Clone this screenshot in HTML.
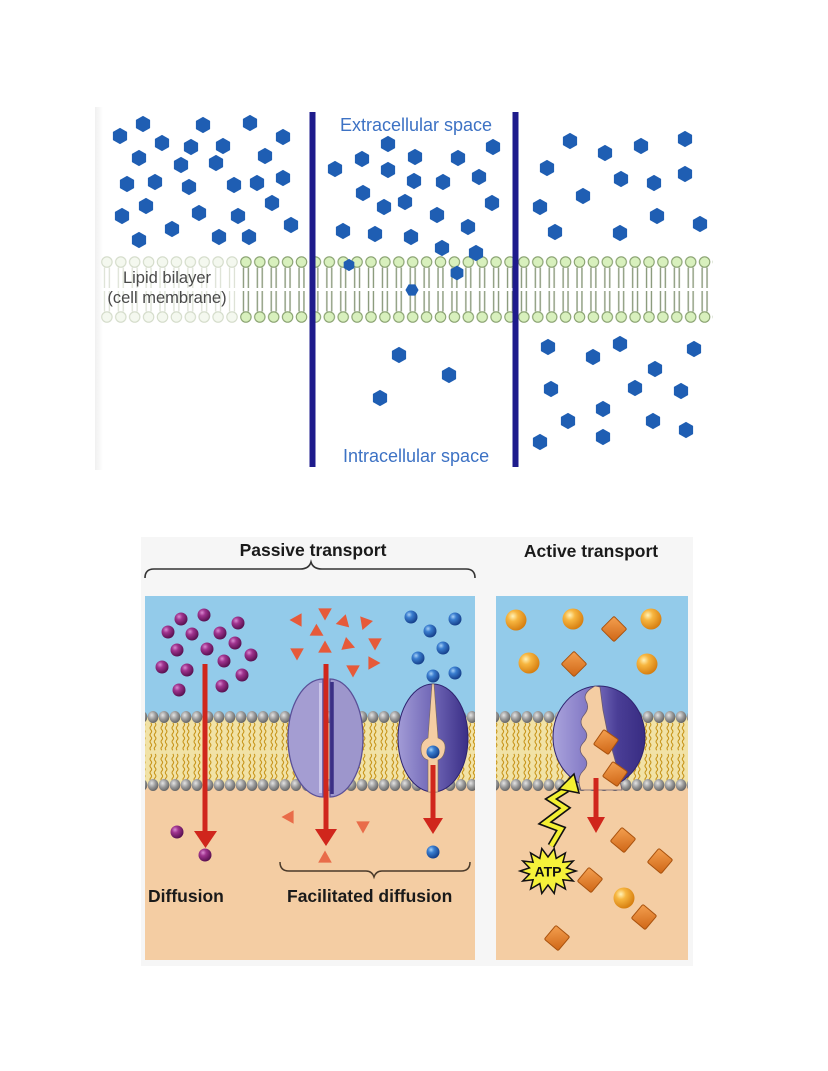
<!DOCTYPE html>
<html><head><meta charset="utf-8"><style>html,body{margin:0;padding:0;background:#fff}svg{display:block}</style></head>
<body>
<svg width="828" height="1071" viewBox="0 0 828 1071" xmlns="http://www.w3.org/2000/svg" xmlns:xlink="http://www.w3.org/1999/xlink">
<defs>
 <linearGradient id="edge" x1="0" y1="0" x2="1" y2="0"><stop offset="0" stop-color="#f0f0f0"/><stop offset="1" stop-color="#fff"/></linearGradient>
 <pattern id="memG" patternUnits="userSpaceOnUse" x="225.05" y="251" width="13.9" height="72">
  <path d="M4.5 16.5V37M9.4 16.5V37M4.5 40V60.5M9.4 40V60.5" stroke="#8b9a7c" stroke-width="1.4" fill="none"/>
  <circle cx="6.95" cy="11" r="5.2" fill="#d8f0bd" stroke="#87a06e" stroke-width="1.1"/>
  <circle cx="6.95" cy="66" r="5.2" fill="#d8f0bd" stroke="#87a06e" stroke-width="1.1"/>
 </pattern>
 <pattern id="memF" patternUnits="userSpaceOnUse" x="225.05" y="251" width="13.9" height="72">
  <path d="M4.5 16.5V37M9.4 16.5V37M4.5 40V60.5M9.4 40V60.5" stroke="#dde2d6" stroke-width="1.3" fill="none"/>
  <circle cx="6.95" cy="11" r="5.2" fill="#f4f8ef" stroke="#d3dbc9" stroke-width="1.1"/>
  <circle cx="6.95" cy="66" r="5.2" fill="#f4f8ef" stroke="#d3dbc9" stroke-width="1.1"/>
 </pattern>
 <radialGradient id="gh" cx=".38" cy=".35" r=".7"><stop offset="0" stop-color="#e4e4e4"/><stop offset=".5" stop-color="#9a9a9a"/><stop offset="1" stop-color="#5f5f5f"/></radialGradient>
 <pattern id="bmem" patternUnits="userSpaceOnUse" x="147.5" y="710" width="11" height="82">
  <rect y="7" width="11" height="68" fill="#f1e2a6"/>
  <path d="M3.3 13q1.6 1.7 0 3.4t0 3.4t0 3.4t0 3.4t0 3.4t0 3.4t0 3.4t0 3.4M7.6 13q1.6 1.7 0 3.4t0 3.4t0 3.4t0 3.4t0 3.4t0 3.4t0 3.4t0 3.4M3.3 44q1.6 1.7 0 3.4t0 3.4t0 3.4t0 3.4t0 3.4t0 3.4t0 3.4t0 3.4M7.6 44q1.6 1.7 0 3.4t0 3.4t0 3.4t0 3.4t0 3.4t0 3.4t0 3.4t0 3.4" stroke="#c8961c" stroke-width="1.1" fill="none"/>
  <ellipse cx="5.5" cy="7" rx="5.3" ry="6" fill="url(#gh)"/>
  <ellipse cx="5.5" cy="75" rx="5.3" ry="6" fill="url(#gh)"/>
 </pattern>
 <radialGradient id="gp" cx=".35" cy=".32" r=".7"><stop offset="0" stop-color="#d88ad0"/><stop offset=".35" stop-color="#a0348f"/><stop offset="1" stop-color="#581050"/></radialGradient>
 <radialGradient id="gb" cx=".35" cy=".32" r=".7"><stop offset="0" stop-color="#a6d0f6"/><stop offset=".35" stop-color="#3a7ed0"/><stop offset="1" stop-color="#153f8a"/></radialGradient>
 <radialGradient id="go" cx=".35" cy=".32" r=".7"><stop offset="0" stop-color="#fff2b8"/><stop offset=".35" stop-color="#f7b640"/><stop offset="1" stop-color="#d67e10"/></radialGradient>
 <linearGradient id="gd" x1="0" y1="0" x2="1" y2="1"><stop offset="0" stop-color="#f4a050"/><stop offset="1" stop-color="#cf6616"/></linearGradient>
 <linearGradient id="gcar" x1="0" y1="0" x2="1" y2="0"><stop offset="0" stop-color="#a29bd6"/><stop offset=".5" stop-color="#6f66b6"/><stop offset="1" stop-color="#3a2e86"/></linearGradient>
 <linearGradient id="gpump" x1="0" y1="0" x2="1" y2="0"><stop offset="0" stop-color="#aaa3dc"/><stop offset=".45" stop-color="#7a70c0"/><stop offset=".7" stop-color="#4a3e96"/><stop offset="1" stop-color="#382c82"/></linearGradient>
 <polygon id="hx" points="0,-7.6 6.6,-3.8 6.6,3.8 0,7.6 -6.6,3.8 -6.6,-3.8" fill="#1f5eb3" stroke="#1f5eb3" stroke-width="1" stroke-linejoin="round"/>
 <polygon id="tri" points="0,-7.5 6.8,4.6 -6.8,4.6" fill="#e65a3a"/>
 <circle id="pb" r="6.5" fill="url(#gp)"/>
 <circle id="bb" r="6.5" fill="url(#gb)"/>
 <circle id="ob" r="10.5" fill="url(#go)"/>
 <rect id="dm" x="-9" y="-9" width="18" height="18" rx="1.5" fill="url(#gd)" stroke="#a9520e" stroke-width="1"/>
</defs>
<rect width="828" height="1071" fill="#fff"/>

<!-- ===== TOP DIAGRAM ===== -->
<rect x="95" y="107" width="8" height="363" fill="url(#edge)"/>
<rect x="99" y="251" width="141" height="72" fill="url(#memF)"/>
<rect x="240" y="251" width="473" height="72" fill="url(#memG)"/>

<g font-family="Liberation Sans, Arial, sans-serif" font-size="16.5" fill="#4a4a4a" text-anchor="middle">
 <text x="167" y="283">Lipid bilayer</text>
 <text x="167" y="303">(cell membrane)</text>
</g>
<g font-family="Liberation Sans, Arial, sans-serif" font-size="18" fill="#3d72c4">
 <text x="340" y="131">Extracellular space</text>
 <text x="343" y="462">Intracellular space</text>
</g>

<g>
 <use href="#hx" x="120" y="136"/><use href="#hx" x="143" y="124"/><use href="#hx" x="203" y="125"/><use href="#hx" x="250" y="123"/><use href="#hx" x="283" y="137"/>
 <use href="#hx" x="162" y="143"/><use href="#hx" x="191" y="147"/><use href="#hx" x="223" y="146"/><use href="#hx" x="139" y="158"/><use href="#hx" x="181" y="165"/>
 <use href="#hx" x="216" y="163"/><use href="#hx" x="265" y="156"/><use href="#hx" x="127" y="184"/><use href="#hx" x="155" y="182"/><use href="#hx" x="189" y="187"/>
 <use href="#hx" x="234" y="185"/><use href="#hx" x="257" y="183"/><use href="#hx" x="283" y="178"/><use href="#hx" x="146" y="206"/><use href="#hx" x="272" y="203"/>
 <use href="#hx" x="122" y="216"/><use href="#hx" x="199" y="213"/><use href="#hx" x="238" y="216"/><use href="#hx" x="291" y="225"/><use href="#hx" x="172" y="229"/>
 <use href="#hx" x="139" y="240"/><use href="#hx" x="219" y="237"/><use href="#hx" x="249" y="237"/>
 <use href="#hx" x="335" y="169"/><use href="#hx" x="362" y="159"/><use href="#hx" x="388" y="144"/><use href="#hx" x="388" y="170"/><use href="#hx" x="363" y="193"/>
 <use href="#hx" x="384" y="207"/><use href="#hx" x="405" y="202"/><use href="#hx" x="343" y="231"/><use href="#hx" x="375" y="234"/><use href="#hx" x="411" y="237"/>
 <use href="#hx" x="415" y="157"/><use href="#hx" x="458" y="158"/><use href="#hx" x="493" y="147"/><use href="#hx" x="414" y="181"/><use href="#hx" x="443" y="182"/>
 <use href="#hx" x="479" y="177"/><use href="#hx" x="437" y="215"/><use href="#hx" x="492" y="203"/><use href="#hx" x="468" y="227"/><use href="#hx" x="442" y="248"/>
 <use href="#hx" x="476" y="253"/>
 <use href="#hx" transform="translate(349,265) scale(0.75)"/>
 <use href="#hx" transform="translate(457,273) scale(0.9)"/>
 <use href="#hx" transform="translate(412,290) scale(0.8) rotate(30)"/>
 <use href="#hx" x="570" y="141"/><use href="#hx" x="605" y="153"/><use href="#hx" x="641" y="146"/><use href="#hx" x="685" y="139"/><use href="#hx" x="547" y="168"/>
 <use href="#hx" x="621" y="179"/><use href="#hx" x="654" y="183"/><use href="#hx" x="685" y="174"/><use href="#hx" x="583" y="196"/><use href="#hx" x="540" y="207"/>
 <use href="#hx" x="657" y="216"/><use href="#hx" x="700" y="224"/><use href="#hx" x="555" y="232"/><use href="#hx" x="620" y="233"/>
 <use href="#hx" x="399" y="355"/><use href="#hx" x="449" y="375"/><use href="#hx" x="380" y="398"/>
 <use href="#hx" x="548" y="347"/><use href="#hx" x="593" y="357"/><use href="#hx" x="620" y="344"/><use href="#hx" x="694" y="349"/><use href="#hx" x="655" y="369"/>
 <use href="#hx" x="551" y="389"/><use href="#hx" x="635" y="388"/><use href="#hx" x="681" y="391"/><use href="#hx" x="603" y="409"/><use href="#hx" x="568" y="421"/>
 <use href="#hx" x="653" y="421"/><use href="#hx" x="686" y="430"/><use href="#hx" x="540" y="442"/><use href="#hx" x="603" y="437"/>
</g>

<rect x="309.5" y="112" width="6" height="355" fill="#1e1b8c"/>
<rect x="512.5" y="112" width="6" height="355" fill="#1e1b8c"/>

<!-- ===== BOTTOM DIAGRAM ===== -->
<rect x="141" y="537" width="552" height="429" fill="#f6f6f6"/>

<g font-family="Liberation Sans, Arial, sans-serif" font-weight="bold" font-size="17.5" fill="#1a1a1a">
 <text x="313" y="556" text-anchor="middle">Passive transport</text>
 <text x="591" y="557" text-anchor="middle">Active transport</text>
</g>
<path d="M145 578Q145 569 154 569L300 569Q309 569 311 562Q313 569 322 569L466 569Q475 569 475 578" fill="none" stroke="#333" stroke-width="1.6"/>

<rect x="145" y="596" width="330" height="364" fill="#f4cda3"/>
<rect x="145" y="596" width="330" height="121" fill="#93cbea"/>
<rect x="145" y="710" width="330" height="82" fill="url(#bmem)"/>

<path d="M323 679A35 59 0 0 0 323 797Z" fill="#a49dd2" stroke="#5a5098" stroke-width="1.3"/>
<path d="M330 679A33 59 0 0 1 330 797Z" fill="#9d96cc" stroke="#5a5098" stroke-width="1.3"/>
<line x1="320.5" y1="683" x2="320.5" y2="793" stroke="#ccc7ea" stroke-width="3"/>
<line x1="332" y1="682" x2="332" y2="794" stroke="#3b2f85" stroke-width="3.5"/>

<ellipse cx="433" cy="738" rx="35" ry="54" fill="url(#gcar)" stroke="#2e2470" stroke-width="1"/>
<path d="M432 684L434 684L438 738Q446 741 445 749Q444 758 438 760L438 792L428 792L428 760Q421 758 421 749Q421 741 428 738Z" fill="#f4cda3" stroke="#7a6a58" stroke-width="0.6"/>
<use href="#bb" x="433" y="752"/>

<g fill="#d0261c">
 <rect x="202.5" y="664" width="5" height="170"/><polygon points="194,831 217,831 205.5,848"/>
 <rect x="323.5" y="664" width="5" height="168"/><polygon points="315,829 337,829 326,846"/>
 <rect x="430.5" y="765" width="5" height="55"/><polygon points="423,818 443,818 433,834"/>
</g>

<use href="#pb" x="181" y="619"/><use href="#pb" x="204" y="615"/><use href="#pb" x="238" y="623"/><use href="#pb" x="168" y="632"/><use href="#pb" x="192" y="634"/>
<use href="#pb" x="220" y="633"/><use href="#pb" x="235" y="643"/><use href="#pb" x="177" y="650"/><use href="#pb" x="207" y="649"/><use href="#pb" x="251" y="655"/>
<use href="#pb" x="224" y="661"/><use href="#pb" x="162" y="667"/><use href="#pb" x="187" y="670"/><use href="#pb" x="242" y="675"/><use href="#pb" x="179" y="690"/>
<use href="#pb" x="222" y="686"/><use href="#pb" x="177" y="832"/><use href="#pb" x="205" y="855"/>

<use href="#tri" transform="translate(297,620) rotate(270)"/>
<use href="#tri" transform="translate(325,613) rotate(180)"/>
<use href="#tri" transform="translate(343,622) rotate(255)"/>
<use href="#tri" transform="translate(365,623) rotate(200)"/>
<use href="#tri" transform="translate(317,632) rotate(120)"/>
<use href="#tri" transform="translate(375,643) rotate(180)"/>
<use href="#tri" transform="translate(297,653) rotate(180)"/>
<use href="#tri" transform="translate(325,648) rotate(0)"/>
<use href="#tri" transform="translate(348,645) rotate(110)"/>
<use href="#tri" transform="translate(373,663) rotate(90)"/>
<use href="#tri" transform="translate(353,670) rotate(180)"/>
<use href="#tri" transform="translate(289,817) rotate(270)" opacity="0.85"/>
<use href="#tri" transform="translate(363,826) rotate(180)" opacity="0.85"/>
<use href="#tri" transform="translate(325,858) rotate(0)" opacity="0.85"/>

<use href="#bb" x="411" y="617"/><use href="#bb" x="455" y="619"/><use href="#bb" x="430" y="631"/><use href="#bb" x="443" y="648"/>
<use href="#bb" x="418" y="658"/><use href="#bb" x="455" y="673"/><use href="#bb" x="433" y="676"/><use href="#bb" x="433" y="852"/>

<path d="M280 862Q280 871 289 871L366 871Q372 871 374 877Q376 871 382 871L461 871Q470 871 470 862" fill="none" stroke="#4a3a2a" stroke-width="1.5"/>
<g font-family="Liberation Sans, Arial, sans-serif" font-weight="bold" font-size="17.5" fill="#1a1a1a">
 <text x="148" y="902">Diffusion</text>
 <text x="287" y="902">Facilitated diffusion</text>
</g>

<rect x="496" y="596" width="192" height="364" fill="#f4cda3"/>
<rect x="496" y="596" width="192" height="121" fill="#93cbea"/>
<rect x="496" y="710" width="192" height="82" fill="url(#bmem)"/>

<ellipse cx="599" cy="737" rx="46" ry="51" fill="url(#gpump)" stroke="#2e2470" stroke-width="1"/>
<path d="M595 686L600 687L603 710L608 735L615 760L622 790L581 790Q576 778 583 771Q590 764 584 757Q577 750 583 743Q590 736 584 729Q578 722 584 715Q590 708 586 701Q582 693 595 686Z" fill="#f4cda3" stroke="#6a5a70" stroke-width="0.8"/>
<use href="#dm" transform="translate(606,742) rotate(35)"/>
<use href="#dm" transform="translate(615,774) rotate(35)"/>

<g fill="#d0261c">
 <rect x="593.5" y="778" width="5" height="42"/><polygon points="587,817 605,817 596,833"/>
</g>

<polyline points="567,789 551,799 565,808 545,823 561,829 551,846" fill="none" stroke="#111" stroke-width="7.5" stroke-linejoin="miter"/>
<polyline points="567,789 551,799 565,808 545,823 561,829 551,846" fill="none" stroke="#f4f032" stroke-width="4.2" stroke-linejoin="miter"/>
<polygon points="574,774 579,793 559,789" fill="#f4f032" stroke="#111" stroke-width="1.5" stroke-linejoin="miter"/>

<polygon points="576,871 566.5,874.1 573.2,881 562.9,879.7 565.4,889 556.2,883.6 554.2,893.4 548,885 541.8,893.4 539.8,883.6 530.6,889 533.1,879.7 522.8,881 529.5,874.1 520,871 529.5,867.9 522.8,861 533.1,862.3 530.6,853 539.8,858.4 541.8,848.6 548,857 554.2,848.6 556.2,858.4 565.4,853 562.9,862.3 573.2,861 566.5,867.9" fill="#f6f23a" stroke="#111" stroke-width="1.5"/>
<text x="548" y="876.5" font-family="Liberation Sans, Arial, sans-serif" font-weight="bold" font-size="14" fill="#111" text-anchor="middle">ATP</text>

<use href="#ob" x="516" y="620"/><use href="#ob" x="573" y="619"/><use href="#ob" x="651" y="619"/><use href="#ob" x="529" y="663"/><use href="#ob" x="647" y="664"/><use href="#ob" x="624" y="898"/>
<use href="#dm" transform="translate(614,629) rotate(45)"/>
<use href="#dm" transform="translate(574,664) rotate(45)"/>
<use href="#dm" transform="translate(623,840) rotate(40)"/>
<use href="#dm" transform="translate(660,861) rotate(40)"/>
<use href="#dm" transform="translate(590,880) rotate(40)"/>
<use href="#dm" transform="translate(644,917) rotate(40)"/>
<use href="#dm" transform="translate(557,938) rotate(40)"/>
</svg>
</body></html>
